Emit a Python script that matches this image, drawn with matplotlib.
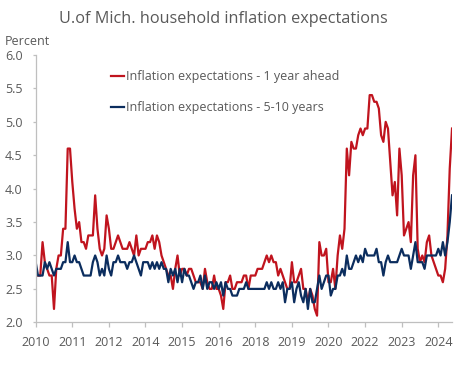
import matplotlib
matplotlib.use("Agg")
import matplotlib.pyplot as plt

plt.rcParams['font.family'] = ['Open Sans', 'DejaVu Sans']

# monthly, Jan 2010 - Mar 2025
one_year = [
    2.7, 2.7, 2.7, 3.2, 2.9, 2.8, 2.7, 2.7, 2.2, 2.8, 3.0, 3.0,  # 2010
    3.4, 3.4, 4.6, 4.6, 4.1, 3.7, 3.4, 3.5, 3.2, 3.2, 3.1, 3.3,  # 2011
    3.3, 3.3, 3.9, 3.4, 3.1, 3.0, 3.1, 3.6, 3.4, 3.1, 3.1, 3.2,  # 2012
    3.3, 3.2, 3.1, 3.1, 3.1, 3.2, 3.1, 3.0, 3.3, 3.0, 3.1, 3.1,  # 2013
    3.1, 3.2, 3.2, 3.3, 3.1, 3.3, 3.2, 3.0, 2.9, 2.8, 2.7, 2.7,  # 2014
    2.5, 2.8, 3.0, 2.7, 2.8, 2.8, 2.7, 2.8, 2.8, 2.7, 2.6, 2.6,  # 2015
    2.6, 2.5, 2.8, 2.6, 2.5, 2.5, 2.7, 2.5, 2.5, 2.4, 2.2, 2.6,  # 2016
    2.6, 2.7, 2.5, 2.5, 2.6, 2.6, 2.6, 2.7, 2.7, 2.5, 2.7, 2.7,  # 2017
    2.7, 2.8, 2.8, 2.8, 2.9, 3.0, 2.9, 3.0, 2.9, 2.9, 2.7, 2.8,  # 2018
    2.7, 2.6, 2.5, 2.5, 2.9, 2.6, 2.6, 2.7, 2.8, 2.5, 2.5, 2.3,  # 2019
    2.5, 2.4, 2.2, 2.1, 3.2, 3.0, 3.0, 3.1, 2.6, 2.6, 2.8, 2.5,  # 2020
    3.0, 3.3, 3.1, 3.4, 4.6, 4.2, 4.7, 4.6, 4.6, 4.8, 4.9, 4.8,  # 2021
    4.9, 4.9, 5.4, 5.4, 5.3, 5.3, 5.2, 4.8, 4.7, 5.0, 4.9, 4.4,  # 2022
    3.9, 4.1, 3.6, 4.6, 4.2, 3.3, 3.4, 3.5, 3.2, 4.2, 4.5, 3.1,  # 2023
    2.9, 3.0, 2.9, 3.2, 3.3, 3.0, 2.9, 2.8, 2.7, 2.7, 2.6, 2.8,  # 2024
    3.3, 4.3, 4.9,                                               # 2025
]

five_ten_year = [
    2.9, 2.7, 2.7, 2.7, 2.9, 2.8, 2.9, 2.8, 2.7, 2.8, 2.8, 2.8,  # 2010
    2.9, 2.9, 3.2, 2.9, 2.9, 3.0, 2.9, 2.9, 2.8, 2.7, 2.7, 2.7,  # 2011
    2.7, 2.9, 3.0, 2.9, 2.7, 2.8, 2.7, 3.0, 2.8, 2.7, 2.9, 2.9,  # 2012
    3.0, 2.9, 2.9, 2.9, 2.8, 2.9, 2.9, 3.0, 2.9, 2.8, 2.7, 2.9,  # 2013
    2.9, 2.9, 2.8, 2.9, 2.8, 2.9, 2.8, 2.9, 2.8, 2.8, 2.6, 2.8,  # 2014
    2.7, 2.8, 2.6, 2.8, 2.6, 2.8, 2.7, 2.7, 2.6, 2.5, 2.6, 2.6,  # 2015
    2.7, 2.5, 2.7, 2.5, 2.6, 2.6, 2.5, 2.6, 2.5, 2.6, 2.4, 2.6,  # 2016
    2.5, 2.5, 2.4, 2.4, 2.4, 2.5, 2.5, 2.5, 2.6, 2.5, 2.5, 2.5,  # 2017
    2.5, 2.5, 2.5, 2.5, 2.5, 2.6, 2.5, 2.6, 2.5, 2.5, 2.6, 2.5,  # 2018
    2.6, 2.3, 2.5, 2.5, 2.6, 2.3, 2.5, 2.6, 2.4, 2.3, 2.5, 2.2,  # 2019
    2.5, 2.3, 2.3, 2.5, 2.7, 2.5, 2.6, 2.7, 2.7, 2.4, 2.5, 2.5,  # 2020
    2.7, 2.7, 2.8, 2.7, 3.0, 2.8, 2.8, 2.9, 3.0, 2.9, 3.0, 2.9,  # 2021
    3.1, 3.0, 3.0, 3.0, 3.0, 3.1, 2.9, 2.9, 2.7, 2.9, 3.0, 2.9,  # 2022
    2.9, 2.9, 2.9, 3.0, 3.1, 3.0, 3.0, 3.0, 2.8, 3.0, 3.2, 2.9,  # 2023
    2.9, 2.9, 2.8, 3.0, 3.0, 3.0, 3.0, 3.0, 3.1, 3.0, 3.2, 3.0,  # 2024
    3.2, 3.5, 3.9,                                               # 2025
]

# tick every 16 months from Jan 2010, labelled with the year only
tick_months = list(range(0, 177, 16))
tick_labels = ["2010", "2011", "2012", "2014", "2015", "2016",
               "2018", "2019", "2020", "2022", "2023", "2024"]
y_ticks = [2.0, 2.5, 3.0, 3.5, 4.0, 4.5, 5.0, 5.5, 6.0]

red = '#c0141e'
navy = '#0b2d5e'
grey = '#595959'
spine = '#bfbfbf'

fig = plt.figure(figsize=(4.69, 3.75), dpi=100)
ax = fig.add_axes([0.0761, 0.1405, 0.8877, 0.7128])

months = list(range(len(one_year)))
ax.plot(months, one_year, color=red, linewidth=1.6, label='Inflation expectations - 1 year ahead')
ax.plot(months, five_ten_year, color=navy, linewidth=1.6, label='Inflation expectations - 5-10 years')

ax.set_xlim(0, len(one_year) - 1)
ax.set_ylim(2.0, 6.0)
ax.set_xticks(tick_months)
ax.set_xticklabels(tick_labels)
ax.set_yticks(y_ticks)
ax.set_yticklabels([f"{v:.1f}" for v in y_ticks])

for s in ['top', 'right']:
    ax.spines[s].set_visible(False)
for s in ['left', 'bottom']:
    ax.spines[s].set_color(spine)
    ax.spines[s].set_linewidth(0.9)
ax.tick_params(axis='x', length=3.5, width=0.9, color=spine, labelcolor=grey, labelsize=9, pad=6)
ax.tick_params(axis='y', length=2.5, width=0.9, color=spine, labelcolor=grey, labelsize=9, pad=7)

ax.legend(loc='upper left', bbox_to_anchor=(0.155, 0.985), frameon=False, fontsize=9,
          handlelength=1.0, handletextpad=0.15, labelspacing=1.45, labelcolor=grey)

fig.text(0.4755, 0.949, 'U.of Mich. household inflation expectations', ha='center', va='center',
         fontsize=11.7, color=grey)
fig.text(0.01, 0.89, 'Percent', ha='left', va='center', fontsize=9, color=grey)

fig.savefig('out.png', dpi=100)
